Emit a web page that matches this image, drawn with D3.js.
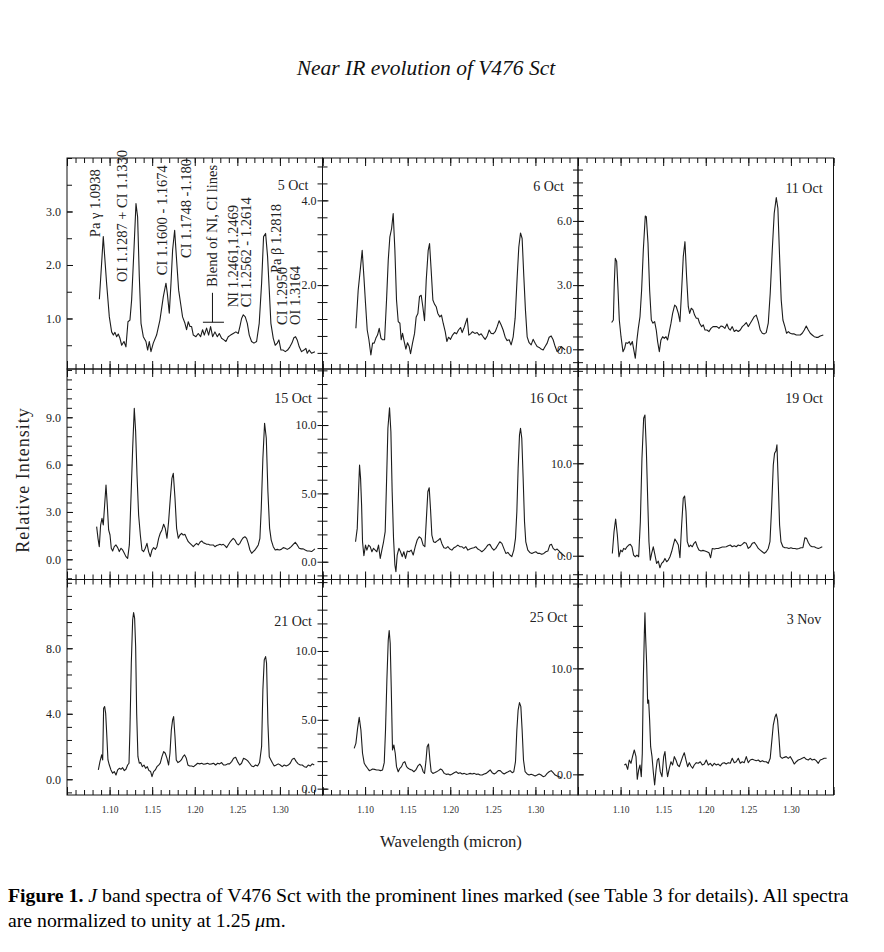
<!DOCTYPE html>
<html><head><meta charset="utf-8">
<script src="https://cdn.jsdelivr.net/npm/d3@7"></script>
<style>body{margin:0;background:#fff}svg{display:block}</style>
</head><body><svg id="c" width="884" height="952"></svg>
<script>
// ---------------- DATA ----------------
const dates = ["5 Oct","6 Oct","11 Oct","15 Oct","16 Oct","19 Oct","21 Oct","25 Oct","3 Nov"];
const xDomain = [1.05, 1.35];
const xTickLabels = ["1.10","1.15","1.20","1.25","1.30"];
// y-range of each panel (relative intensity)
const yDomains = [[0.056,4.0],[0.02,5.0],[-0.92,8.94],[-1.28,12.06],[-1.30,14.1],[-2.57,20.2],[-0.96,12.2],[-0.46,15.19],[-1.95,18.38]];
const yMinorStep = [0.5,0.4,0.6,0.6,1,2,0.8,1,2];
const yMajorStep = [1,2,3,3,5,10,4,5,10];

const oct5 = [[1.0880,1.36],[1.0926,2.53],[1.0965,1.66],[1.0997,1.03],[1.1024,0.75],[1.1044,0.69],[1.1063,0.74],[1.1083,0.66],[1.1102,0.71],[1.1122,0.63],[1.1142,0.50],[1.1169,0.57],[1.1192,0.47],[1.1216,0.94],[1.1239,0.97],[1.1259,1.35],[1.1286,2.28],[1.1310,3.15],[1.1329,2.90],[1.1349,1.78],[1.1369,0.91],[1.1396,0.66],[1.1427,0.57],[1.1447,0.41],[1.1466,0.57],[1.1486,0.38],[1.1513,0.54],[1.1552,0.69],[1.1591,0.97],[1.1631,1.41],[1.1662,1.66],[1.1678,1.47],[1.1701,1.10],[1.1721,1.66],[1.1740,2.28],[1.1764,2.65],[1.1787,2.09],[1.1811,1.53],[1.1834,1.28],[1.1857,1.03],[1.1885,0.91],[1.1904,0.79],[1.1924,0.94],[1.1944,0.85],[1.1963,0.85],[1.1983,0.69],[1.2014,0.66],[1.2041,0.72],[1.2069,0.66],[1.2092,0.79],[1.2112,0.69],[1.2139,0.82],[1.2163,0.69],[1.2186,0.85],[1.2210,0.66],[1.2237,0.75],[1.2265,0.66],[1.2288,0.72],[1.2315,0.63],[1.2343,0.60],[1.2366,0.57],[1.2393,0.66],[1.2421,0.69],[1.2452,0.72],[1.2483,0.75],[1.2511,0.72],[1.2530,0.85],[1.2550,1.00],[1.2570,1.07],[1.2593,1.03],[1.2617,0.91],[1.2640,0.69],[1.2667,0.57],[1.2695,0.54],[1.2726,0.57],[1.2757,0.91],[1.2785,1.66],[1.2808,2.53],[1.2832,2.59],[1.2855,2.16],[1.2875,1.53],[1.2894,0.91],[1.2922,0.63],[1.2945,0.50],[1.2969,0.54],[1.2988,0.60],[1.3012,0.41],[1.3039,0.41],[1.3063,0.38],[1.3090,0.41],[1.3117,0.47],[1.3141,0.54],[1.3164,0.64],[1.3184,0.66],[1.3203,0.60],[1.3227,0.47],[1.3254,0.38],[1.3282,0.41],[1.3305,0.44],[1.3321,0.35],[1.3344,0.41],[1.3371,0.35],[1.3411,0.38]];

const oct6 = [[1.0892,0.98],[1.0919,1.88],[1.0947,2.43],[1.0966,2.82],[1.0986,2.20],[1.1005,1.57],[1.1025,0.94],[1.1045,0.71],[1.1068,0.35],[1.1088,0.63],[1.1107,0.63],[1.1127,0.75],[1.1146,0.82],[1.1166,0.98],[1.1186,0.75],[1.1205,0.71],[1.1229,0.71],[1.1252,1.65],[1.1272,2.59],[1.1291,3.14],[1.1311,3.33],[1.1330,3.69],[1.1350,2.82],[1.1369,1.65],[1.1389,1.14],[1.1409,1.10],[1.1424,0.71],[1.1440,0.86],[1.1459,0.67],[1.1479,0.49],[1.1498,0.64],[1.1518,0.55],[1.1534,0.38],[1.1557,0.63],[1.1581,0.86],[1.1600,1.25],[1.1620,1.33],[1.1639,1.73],[1.1659,1.76],[1.1678,1.49],[1.1698,1.16],[1.1718,2.12],[1.1741,2.82],[1.1757,2.98],[1.1776,2.35],[1.1796,1.65],[1.1815,1.55],[1.1835,1.49],[1.1854,1.33],[1.1878,1.25],[1.1897,1.29],[1.1917,1.10],[1.1941,0.90],[1.1960,0.67],[1.1980,0.77],[1.2003,0.72],[1.2027,0.82],[1.2050,0.88],[1.2074,0.85],[1.2097,0.94],[1.2121,1.00],[1.2140,0.88],[1.2160,0.98],[1.2179,1.10],[1.2199,1.22],[1.2218,0.82],[1.2238,0.85],[1.2261,0.90],[1.2289,0.86],[1.2316,0.88],[1.2340,0.82],[1.2363,0.85],[1.2387,0.78],[1.2410,0.72],[1.2434,0.80],[1.2457,0.94],[1.2481,0.86],[1.2504,0.85],[1.2528,0.90],[1.2551,1.02],[1.2574,1.16],[1.2598,1.06],[1.2621,0.94],[1.2645,0.77],[1.2668,0.69],[1.2692,0.71],[1.2715,0.59],[1.2739,0.78],[1.2762,1.22],[1.2786,2.20],[1.2805,2.90],[1.2825,3.23],[1.2844,3.10],[1.2864,2.20],[1.2883,1.41],[1.2903,0.78],[1.2926,0.64],[1.2950,0.59],[1.2973,0.72],[1.2997,0.63],[1.3020,0.55],[1.3044,0.53],[1.3067,0.49],[1.3091,0.47],[1.3114,0.55],[1.3138,0.63],[1.3161,0.77],[1.3185,0.80],[1.3208,0.71],[1.3232,0.55],[1.3255,0.43],[1.3279,0.47],[1.3302,0.55],[1.3326,0.51],[1.3349,0.47]];

const oct11 = [[1.0895,1.25],[1.0915,1.37],[1.0926,3.08],[1.0938,4.25],[1.0954,4.10],[1.0970,2.77],[1.0985,1.37],[1.1005,0.59],[1.1028,-0.11],[1.1048,0.05],[1.1063,0.31],[1.1083,0.28],[1.1102,0.36],[1.1118,0.20],[1.1138,0.36],[1.1153,0.02],[1.1173,-0.42],[1.1192,0.44],[1.1208,0.98],[1.1228,1.53],[1.1247,2.77],[1.1267,4.64],[1.1290,6.23],[1.1302,6.20],[1.1322,4.95],[1.1341,2.77],[1.1361,1.37],[1.1380,1.22],[1.1400,1.29],[1.1419,0.90],[1.1435,0.36],[1.1455,-0.11],[1.1474,0.44],[1.1494,0.59],[1.1513,0.51],[1.1533,0.59],[1.1552,0.44],[1.1572,0.83],[1.1592,1.22],[1.1611,1.68],[1.1635,2.07],[1.1654,1.99],[1.1678,1.68],[1.1697,1.29],[1.1717,2.77],[1.1736,4.33],[1.1756,5.03],[1.1775,3.40],[1.1795,1.99],[1.1811,1.68],[1.1830,1.92],[1.1850,1.84],[1.1869,1.60],[1.1889,1.45],[1.1909,1.45],[1.1928,1.22],[1.1952,1.06],[1.1971,1.14],[1.1991,0.90],[1.2014,0.90],[1.2038,0.83],[1.2061,0.98],[1.2085,1.06],[1.2108,1.06],[1.2131,1.06],[1.2155,0.98],[1.2178,1.09],[1.2202,1.06],[1.2225,0.98],[1.2249,1.18],[1.2268,0.98],[1.2288,0.90],[1.2311,1.06],[1.2335,0.83],[1.2358,0.90],[1.2382,0.83],[1.2405,0.90],[1.2429,1.06],[1.2452,1.14],[1.2476,1.25],[1.2499,1.06],[1.2523,1.22],[1.2546,1.37],[1.2570,1.53],[1.2593,1.60],[1.2617,1.29],[1.2640,0.90],[1.2664,0.75],[1.2687,0.72],[1.2710,0.78],[1.2734,1.22],[1.2757,2.62],[1.2781,4.64],[1.2804,6.36],[1.2828,7.09],[1.2847,6.59],[1.2867,4.33],[1.2886,2.31],[1.2906,1.37],[1.2929,1.06],[1.2949,0.75],[1.2969,0.83],[1.2992,0.75],[1.3016,0.72],[1.3039,0.72],[1.3063,0.67],[1.3086,0.67],[1.3110,0.67],[1.3133,0.75],[1.3157,0.90],[1.3180,1.09],[1.3204,0.90],[1.3227,0.75],[1.3250,0.67],[1.3274,0.59],[1.3297,0.56],[1.3321,0.56],[1.3344,0.62],[1.3380,0.67]];

const oct15 = [[1.0848,2.07],[1.0864,1.33],[1.0879,0.80],[1.0895,2.18],[1.0911,2.60],[1.0926,2.18],[1.0942,3.44],[1.0958,4.71],[1.0973,3.44],[1.0989,1.86],[1.1005,1.54],[1.1020,0.70],[1.1036,0.53],[1.1055,0.80],[1.1075,0.91],[1.1095,0.74],[1.1114,0.49],[1.1134,0.70],[1.1153,0.59],[1.1173,0.38],[1.1192,0.17],[1.1212,0.06],[1.1232,0.91],[1.1251,3.87],[1.1271,7.03],[1.1290,9.57],[1.1306,8.09],[1.1322,5.35],[1.1341,2.81],[1.1361,1.54],[1.1380,0.59],[1.1400,0.49],[1.1419,0.70],[1.1439,1.01],[1.1458,0.49],[1.1478,0.17],[1.1498,0.59],[1.1517,0.74],[1.1537,0.63],[1.1556,0.80],[1.1576,1.33],[1.1595,1.65],[1.1615,1.86],[1.1635,2.22],[1.1654,1.96],[1.1674,1.33],[1.1693,2.39],[1.1713,3.87],[1.1732,5.13],[1.1748,5.45],[1.1768,3.87],[1.1787,1.96],[1.1807,1.33],[1.1826,1.54],[1.1846,1.65],[1.1865,1.54],[1.1885,1.58],[1.1904,1.33],[1.1924,1.12],[1.1944,1.01],[1.1963,0.91],[1.1983,0.80],[1.2002,0.91],[1.2022,1.01],[1.2041,0.91],[1.2061,1.08],[1.2081,1.16],[1.2100,1.05],[1.2120,1.01],[1.2139,0.95],[1.2159,0.95],[1.2178,0.91],[1.2198,0.91],[1.2217,0.91],[1.2237,0.80],[1.2257,0.87],[1.2276,0.91],[1.2296,0.95],[1.2315,0.91],[1.2335,0.95],[1.2354,0.87],[1.2374,0.74],[1.2393,0.91],[1.2413,1.08],[1.2433,1.22],[1.2452,1.33],[1.2472,1.22],[1.2491,1.01],[1.2511,0.91],[1.2530,1.01],[1.2550,1.22],[1.2570,1.37],[1.2589,1.43],[1.2609,1.33],[1.2628,1.01],[1.2648,0.59],[1.2668,0.38],[1.2687,0.49],[1.2707,0.59],[1.2726,0.74],[1.2746,0.91],[1.2765,1.33],[1.2781,3.23],[1.2800,6.40],[1.2820,8.62],[1.2840,7.67],[1.2859,4.29],[1.2879,1.96],[1.2898,1.22],[1.2922,0.80],[1.2945,0.59],[1.2969,0.63],[1.2992,0.59],[1.3016,0.63],[1.3039,0.74],[1.3063,0.70],[1.3086,0.63],[1.3110,0.70],[1.3133,0.80],[1.3157,0.95],[1.3180,1.08],[1.3203,0.91],[1.3227,0.70],[1.3250,0.66],[1.3274,0.66],[1.3297,0.59],[1.3321,0.53],[1.3344,0.53],[1.3372,0.49],[1.3411,0.66]];

const oct16 = [[1.0888,1.46],[1.0908,2.44],[1.0923,5.12],[1.0935,7.07],[1.0947,6.10],[1.0959,4.15],[1.0970,1.46],[1.0986,0.44],[1.1005,1.22],[1.1021,0.85],[1.1041,1.22],[1.1060,1.10],[1.1080,0.73],[1.1099,0.98],[1.1119,0.85],[1.1138,0.73],[1.1158,1.22],[1.1178,0.24],[1.1197,0.85],[1.1217,1.46],[1.1236,2.20],[1.1252,5.85],[1.1268,9.76],[1.1287,11.27],[1.1303,9.51],[1.1318,5.12],[1.1334,1.71],[1.1350,-0.24],[1.1362,-0.73],[1.1377,0.49],[1.1397,0.98],[1.1416,0.73],[1.1436,0.37],[1.1455,0.73],[1.1475,0.24],[1.1495,0.78],[1.1518,0.73],[1.1542,0.85],[1.1565,0.49],[1.1589,1.10],[1.1612,1.59],[1.1635,1.83],[1.1659,1.71],[1.1682,1.22],[1.1702,1.10],[1.1722,3.41],[1.1737,5.12],[1.1753,5.41],[1.1768,3.90],[1.1784,1.95],[1.1804,1.46],[1.1823,1.41],[1.1843,1.51],[1.1862,1.59],[1.1882,1.71],[1.1901,1.34],[1.1925,1.02],[1.1948,0.98],[1.1972,1.10],[1.1995,0.93],[1.2019,0.85],[1.2042,1.02],[1.2066,1.10],[1.2089,1.22],[1.2113,1.10],[1.2136,1.10],[1.2160,0.98],[1.2183,1.10],[1.2207,0.85],[1.2230,0.93],[1.2253,0.98],[1.2277,1.02],[1.2300,1.10],[1.2324,0.93],[1.2347,0.85],[1.2371,0.73],[1.2394,0.85],[1.2418,1.02],[1.2441,1.22],[1.2465,1.27],[1.2488,1.02],[1.2512,0.85],[1.2535,0.98],[1.2559,1.22],[1.2582,1.46],[1.2606,1.34],[1.2629,0.98],[1.2653,0.61],[1.2676,0.68],[1.2700,0.49],[1.2723,0.37],[1.2746,0.85],[1.2766,1.71],[1.2782,3.66],[1.2797,6.83],[1.2813,9.27],[1.2825,9.76],[1.2840,9.02],[1.2856,6.10],[1.2872,2.93],[1.2887,1.46],[1.2911,0.85],[1.2934,0.68],[1.2958,0.61],[1.2981,0.68],[1.3005,0.73],[1.3028,0.61],[1.3052,0.61],[1.3075,0.54],[1.3099,0.61],[1.3122,0.73],[1.3146,0.78],[1.3169,1.22],[1.3189,1.27],[1.3208,0.98],[1.3232,0.85],[1.3255,0.93],[1.3279,0.78],[1.3302,0.61],[1.3326,0.49],[1.3349,0.37]];

const oct19 = [[1.0903,0.25],[1.0923,2.60],[1.0942,3.97],[1.0962,2.24],[1.0981,-0.11],[1.1001,0.61],[1.1020,0.43],[1.1036,0.79],[1.1056,0.69],[1.1075,0.97],[1.1095,1.16],[1.1114,1.23],[1.1134,0.97],[1.1153,0.07],[1.1173,-0.11],[1.1192,0.07],[1.1212,-0.11],[1.1232,3.68],[1.1251,10.54],[1.1271,14.87],[1.1286,15.23],[1.1302,11.62],[1.1318,6.21],[1.1333,1.52],[1.1349,-0.47],[1.1365,0.25],[1.1384,0.97],[1.1404,0.07],[1.1423,-0.83],[1.1443,-0.58],[1.1462,-1.30],[1.1482,-0.83],[1.1502,-0.65],[1.1521,-0.29],[1.1541,-0.65],[1.1560,-0.47],[1.1580,-0.11],[1.1599,0.43],[1.1619,1.16],[1.1638,1.81],[1.1658,1.52],[1.1678,1.16],[1.1697,-0.22],[1.1717,3.32],[1.1736,6.21],[1.1752,6.46],[1.1768,4.77],[1.1783,1.52],[1.1803,0.97],[1.1822,1.16],[1.1842,0.97],[1.1862,1.34],[1.1881,1.52],[1.1901,0.97],[1.1920,0.61],[1.1944,0.51],[1.1967,0.58],[1.1991,0.51],[1.2014,0.43],[1.2038,0.32],[1.2057,-0.22],[1.2077,0.79],[1.2100,0.72],[1.2124,0.79],[1.2147,0.79],[1.2170,0.87],[1.2194,0.94],[1.2217,0.94],[1.2241,0.97],[1.2264,1.08],[1.2288,1.16],[1.2311,0.97],[1.2335,1.08],[1.2358,0.97],[1.2382,1.16],[1.2405,1.08],[1.2429,1.23],[1.2452,1.44],[1.2476,1.34],[1.2499,0.79],[1.2523,0.97],[1.2546,1.34],[1.2570,1.44],[1.2593,1.16],[1.2617,0.79],[1.2640,0.61],[1.2664,0.43],[1.2687,0.25],[1.2710,0.43],[1.2734,0.79],[1.2754,1.52],[1.2773,5.13],[1.2793,9.82],[1.2808,11.08],[1.2824,11.34],[1.2836,11.99],[1.2851,8.01],[1.2867,3.32],[1.2883,1.52],[1.2906,0.97],[1.2929,0.87],[1.2953,0.87],[1.2976,0.79],[1.3000,0.87],[1.3023,0.79],[1.3047,0.79],[1.3070,0.72],[1.3094,0.79],[1.3117,0.87],[1.3141,0.87],[1.3164,1.95],[1.3184,1.88],[1.3204,1.44],[1.3227,1.08],[1.3250,0.97],[1.3274,0.97],[1.3297,0.87],[1.3321,0.79],[1.3344,0.87],[1.3368,0.97]];

const oct21 = [[1.0868,0.57],[1.0887,1.08],[1.0907,1.49],[1.0919,1.18],[1.0930,4.34],[1.0942,4.44],[1.0954,4.03],[1.0966,2.81],[1.0981,1.18],[1.0997,0.87],[1.1016,0.57],[1.1036,0.37],[1.1055,0.47],[1.1075,0.26],[1.1095,0.57],[1.1114,0.67],[1.1134,0.61],[1.1153,0.71],[1.1173,0.53],[1.1192,0.61],[1.1212,0.87],[1.1228,0.98],[1.1239,3.01],[1.1255,7.09],[1.1271,9.74],[1.1282,10.18],[1.1294,9.84],[1.1306,8.11],[1.1318,4.03],[1.1333,1.38],[1.1349,0.98],[1.1365,1.02],[1.1384,0.77],[1.1404,0.87],[1.1423,0.67],[1.1443,0.77],[1.1462,0.53],[1.1482,0.47],[1.1498,0.16],[1.1517,0.47],[1.1537,0.57],[1.1556,0.77],[1.1576,0.87],[1.1595,0.98],[1.1615,1.38],[1.1635,1.69],[1.1654,1.59],[1.1674,1.28],[1.1693,0.87],[1.1709,1.59],[1.1725,3.01],[1.1740,3.63],[1.1752,3.83],[1.1768,2.61],[1.1783,1.18],[1.1803,1.02],[1.1822,1.08],[1.1842,1.18],[1.1862,1.38],[1.1881,1.49],[1.1901,1.28],[1.1920,0.87],[1.1940,0.81],[1.1963,0.81],[1.1987,0.77],[1.2010,0.87],[1.2034,0.98],[1.2057,0.94],[1.2081,0.98],[1.2104,0.92],[1.2127,0.94],[1.2151,0.98],[1.2174,0.92],[1.2198,0.94],[1.2221,0.98],[1.2245,0.87],[1.2268,0.98],[1.2292,0.94],[1.2315,1.02],[1.2339,0.87],[1.2362,0.87],[1.2386,0.94],[1.2409,0.94],[1.2433,1.08],[1.2456,1.28],[1.2480,1.34],[1.2503,1.08],[1.2527,0.87],[1.2550,0.98],[1.2573,1.28],[1.2597,1.22],[1.2620,1.14],[1.2644,0.98],[1.2667,0.81],[1.2691,0.77],[1.2714,0.87],[1.2738,0.81],[1.2761,1.02],[1.2785,2.00],[1.2800,5.46],[1.2816,7.29],[1.2832,7.49],[1.2843,7.09],[1.2859,3.42],[1.2875,1.38],[1.2894,1.18],[1.2914,0.98],[1.2933,0.81],[1.2957,0.87],[1.2980,0.94],[1.3004,0.87],[1.3027,0.77],[1.3051,0.87],[1.3074,0.81],[1.3098,0.87],[1.3121,0.98],[1.3145,1.22],[1.3168,1.28],[1.3192,1.08],[1.3215,0.94],[1.3239,0.87],[1.3262,0.87],[1.3286,0.77],[1.3309,0.73],[1.3333,0.87],[1.3356,0.81],[1.3380,0.94],[1.3403,0.87]];

const oct25 = [[1.0872,2.93],[1.0892,3.29],[1.0912,4.38],[1.0931,5.18],[1.0951,4.26],[1.0970,2.57],[1.0990,1.84],[1.1009,1.65],[1.1029,1.48],[1.1049,1.31],[1.1068,1.36],[1.1088,1.43],[1.1111,1.40],[1.1135,1.36],[1.1158,1.36],[1.1182,1.31],[1.1205,1.36],[1.1225,1.89],[1.1240,4.26],[1.1256,7.89],[1.1272,10.80],[1.1283,11.48],[1.1295,10.56],[1.1307,7.41],[1.1322,2.81],[1.1338,3.17],[1.1354,2.57],[1.1369,1.60],[1.1389,1.23],[1.1409,1.48],[1.1428,1.60],[1.1448,1.89],[1.1467,1.96],[1.1487,1.60],[1.1506,1.48],[1.1526,1.40],[1.1549,1.36],[1.1573,1.23],[1.1596,1.36],[1.1620,1.65],[1.1643,1.79],[1.1663,1.60],[1.1682,1.23],[1.1698,1.11],[1.1714,1.96],[1.1729,3.05],[1.1745,3.24],[1.1761,2.08],[1.1776,1.23],[1.1796,1.11],[1.1815,1.16],[1.1839,1.23],[1.1862,1.31],[1.1886,1.43],[1.1905,1.36],[1.1929,1.11],[1.1952,1.04],[1.1976,1.07],[1.1999,0.99],[1.2023,1.07],[1.2046,1.16],[1.2070,1.23],[1.2093,1.11],[1.2117,1.16],[1.2140,1.07],[1.2164,1.11],[1.2187,1.04],[1.2211,1.07],[1.2234,1.11],[1.2257,1.07],[1.2281,1.11],[1.2304,1.04],[1.2328,1.07],[1.2351,0.99],[1.2375,0.99],[1.2398,1.07],[1.2422,1.11],[1.2445,1.23],[1.2469,1.36],[1.2492,1.16],[1.2516,1.07],[1.2539,1.16],[1.2563,1.31],[1.2586,1.31],[1.2610,1.16],[1.2633,1.07],[1.2656,1.16],[1.2680,1.23],[1.2703,1.31],[1.2727,1.16],[1.2746,1.23],[1.2766,1.96],[1.2782,4.26],[1.2797,5.71],[1.2813,6.25],[1.2829,5.96],[1.2844,4.26],[1.2860,2.08],[1.2879,1.23],[1.2903,1.07],[1.2926,0.99],[1.2950,1.04],[1.2973,0.99],[1.2997,0.92],[1.3020,0.99],[1.3044,1.07],[1.3067,0.99],[1.3091,0.87],[1.3114,0.92],[1.3138,1.11],[1.3161,1.23],[1.3185,1.31],[1.3208,1.16],[1.3232,0.99],[1.3255,0.92],[1.3279,0.87],[1.3302,0.80]];

const nov3 = [[1.1044,0.88],[1.1063,0.97],[1.1083,0.47],[1.1102,1.35],[1.1122,1.04],[1.1142,1.73],[1.1161,2.30],[1.1181,1.67],[1.1196,-0.47],[1.1212,0.41],[1.1228,0.88],[1.1243,-0.22],[1.1255,1.98],[1.1267,8.90],[1.1279,13.30],[1.1286,15.25],[1.1294,12.99],[1.1306,10.47],[1.1318,6.70],[1.1329,7.01],[1.1341,5.13],[1.1353,2.61],[1.1369,1.67],[1.1384,0.25],[1.1400,-1.01],[1.1416,0.41],[1.1431,1.35],[1.1447,1.51],[1.1466,0.25],[1.1486,-0.22],[1.1506,1.67],[1.1521,2.14],[1.1537,0.72],[1.1552,-0.22],[1.1572,0.57],[1.1592,1.19],[1.1611,0.88],[1.1631,1.67],[1.1650,1.35],[1.1670,0.88],[1.1689,0.72],[1.1709,1.19],[1.1729,1.67],[1.1748,2.04],[1.1768,1.35],[1.1787,0.72],[1.1807,1.10],[1.1826,0.79],[1.1846,0.57],[1.1865,0.88],[1.1889,1.10],[1.1912,1.04],[1.1936,1.19],[1.1959,0.88],[1.1983,0.97],[1.2006,1.35],[1.2030,0.88],[1.2053,1.04],[1.2077,0.79],[1.2100,1.04],[1.2124,0.88],[1.2147,0.97],[1.2170,0.79],[1.2194,1.04],[1.2217,1.10],[1.2241,0.97],[1.2264,1.10],[1.2288,1.04],[1.2311,1.51],[1.2335,1.10],[1.2358,1.19],[1.2382,1.51],[1.2405,1.04],[1.2429,1.19],[1.2452,1.10],[1.2476,1.67],[1.2499,1.10],[1.2523,1.35],[1.2546,1.42],[1.2570,1.35],[1.2593,1.29],[1.2617,1.35],[1.2640,1.19],[1.2664,1.29],[1.2687,1.19],[1.2710,1.19],[1.2734,1.04],[1.2757,1.51],[1.2773,2.92],[1.2793,4.65],[1.2812,5.38],[1.2828,5.69],[1.2843,5.13],[1.2859,3.55],[1.2875,1.67],[1.2898,1.51],[1.2922,1.60],[1.2945,1.67],[1.2969,1.51],[1.2992,1.67],[1.3016,1.35],[1.3039,0.97],[1.3063,1.19],[1.3086,1.35],[1.3110,1.42],[1.3133,1.51],[1.3157,1.60],[1.3180,1.42],[1.3204,1.35],[1.3227,1.51],[1.3250,1.35],[1.3274,1.42],[1.3297,1.29],[1.3321,1.04],[1.3344,1.35],[1.3368,1.42],[1.3391,1.51],[1.3419,1.51]];

const spectra = [oct5, oct6, oct11, oct15, oct16, oct19, oct21, oct25, nov3];

// line identifications in the first panel (wavelength / intensity of label foot)
const lineIds = ["Pa γ 1.0938","OI 1.1287 + CI 1.1330","CI 1.1600 - 1.1674","CI 1.1748 -1.180","Blend of NI, CI lines","NI 1.2461,1.2469","CI 1.2562 - 1.2614","Pa β 1.2818","CI 1.2950","OI 1.3164"];
const lineIdWl = [1.0829,1.1146,1.1615,1.1897,1.2202,1.2448,1.2601,1.2953,1.3029,1.3176];
const lineIdV  = [2.52,1.68,1.81,2.13,1.59,1.21,1.21,1.85,0.88,0.88];
const blendWl = [1.2096, 1.2208, 1.2343];
const blendV = [1.48, 0.93];

// ---------------- LAYOUT ----------------
const svg = d3.select("#c");
const colX = [67, 322.5, 578], panelW = 255.5;
const rowY = [158, 369, 579.5, 795];
const dateDy = [32, 32.5, 35, 33.5, 34, 33.5, 46, 42.5, 44];
const SERIF = "'Liberation Serif','Times New Roman',serif";
const ink = "#111";

function styleAxis(g){
  g.select(".domain").remove();
  g.selectAll("line").attr("stroke", ink).attr("stroke-width", 1);
  g.selectAll("text").attr("font-family", SERIF).attr("fill", "#222");
}

const xMinor = d3.range(105, 136).map(k => k/100);
const xMajor = d3.range(105, 136, 5).map(k => k/100);

spectra.forEach((data, i) => {
  const c = i % 3, r = Math.floor(i / 3);
  const x0 = colX[c], y0 = rowY[r], y1 = rowY[r + 1];
  const x = d3.scaleLinear().domain(xDomain).range([x0, x0 + panelW]);
  const y = d3.scaleLinear().domain(yDomains[i]).range([y1, y0]);
  const g = svg.append("g");

  // y ticks
  const [lo, hi] = yDomains[i];
  const st = yMinorStep[i];
  const ks = d3.range(Math.ceil(lo / st - 1e-6), Math.floor(hi / st + 1e-6) + 1);
  const minorV = ks.map(k => +(k * st).toFixed(4));
  const majorV = minorV.filter(v => Math.abs(v / yMajorStep[i] - Math.round(v / yMajorStep[i])) < 1e-6)
                       .filter(v => y(v) > y0 + 8 && y(v) < y1 - 2);
  g.append("g").attr("transform", `translate(${x0},0)`)
    .call(d3.axisLeft(y).tickValues(minorV).tickSize(-5).tickFormat(""))
    .call(styleAxis);
  if (c > 0) {
    g.append("g").attr("transform", `translate(${x0},0)`)
      .call(d3.axisLeft(y).tickValues(minorV).tickSize(5).tickFormat(""))
      .call(styleAxis);
  }
  g.append("g").attr("transform", `translate(${x0},0)`)
    .call(d3.axisLeft(y).tickValues(majorV).tickSize(-6).tickPadding(6).tickFormat(d3.format(".1f")))
    .call(styleAxis)
    .call(a => a.selectAll("text").attr("font-size", 12));

  // x ticks (top & bottom, inward)
  g.append("g").attr("transform", `translate(0,${y0})`)
    .call(d3.axisTop(x).tickValues(xMinor).tickSize(-5).tickFormat("")).call(styleAxis);
  g.append("g").attr("transform", `translate(0,${y0})`)
    .call(d3.axisTop(x).tickValues(xMajor).tickSize(-8).tickFormat("")).call(styleAxis);
  g.append("g").attr("transform", `translate(0,${y1})`)
    .call(d3.axisBottom(x).tickValues(xMinor).tickSize(-5).tickFormat("")).call(styleAxis);
  const bottomMajor = g.append("g").attr("transform", `translate(0,${y1})`)
    .call(d3.axisBottom(x).tickValues(xMajor).tickSize(-8).tickPadding(11)
      .tickFormat(d => (r === 2 && xTickLabels.includes(d3.format(".2f")(d))) ? d3.format(".2f")(d) : ""))
    .call(styleAxis);
  bottomMajor.selectAll("text").attr("font-size", 9.5).attr("fill", "#333");

  // frame
  g.append("rect").attr("x", x0).attr("y", y0).attr("width", panelW).attr("height", y1 - y0)
    .attr("fill", "none").attr("stroke", ink).attr("stroke-width", 1);

  // spectrum
  g.append("path").datum(data)
    .attr("d", d3.line().x(d => x(d[0])).y(d => y(d[1])))
    .attr("fill", "none").attr("stroke", "#1c1c1c").attr("stroke-width", 1.1)
    .attr("stroke-linejoin", "round");

  // date label
  g.append("text").attr("x", x0 + 226).attr("y", y0 + dateDy[i])
    .attr("text-anchor", "middle").attr("font-family", SERIF).attr("font-size", 14)
    .attr("fill", "#222").text(dates[i]);

  // line identifications on first panel
  if (i === 0) {
    lineIds.forEach((t, k) => {
      g.append("text")
        .attr("transform", `translate(${x(lineIdWl[k])},${y(lineIdV[k])}) rotate(-90)`)
        .attr("dominant-baseline", "central")
        .attr("font-family", SERIF).attr("font-size", 14.5).attr("fill", "#222").text(t);
    });
    g.append("line").attr("x1", x(blendWl[1])).attr("x2", x(blendWl[1]))
      .attr("y1", y(blendV[0])).attr("y2", y(blendV[1])).attr("stroke", ink);
    g.append("line").attr("x1", x(blendWl[0])).attr("x2", x(blendWl[2]))
      .attr("y1", y(blendV[1])).attr("y2", y(blendV[1])).attr("stroke", ink);
  }
});

// titles
svg.append("text").attr("x", 426).attr("y", 75).attr("text-anchor", "middle")
  .attr("font-family", SERIF).attr("font-style", "italic").attr("font-size", 21.5)
  .attr("fill", "#111").text("Near IR evolution of V476 Sct");
svg.append("text").attr("transform", "translate(23,480) rotate(-90)")
  .attr("text-anchor", "middle").attr("dominant-baseline", "central")
  .attr("font-family", SERIF).attr("font-size", 18).attr("letter-spacing", 1)
  .attr("fill", "#222").text("Relative Intensity");
svg.append("text").attr("x", 451).attr("y", 847).attr("text-anchor", "middle")
  .attr("font-family", SERIF).attr("font-size", 16.7).attr("fill", "#222")
  .text("Wavelength (micron)");

// caption
const cap1 = svg.append("text").attr("x", 8).attr("y", 902)
  .attr("font-family", SERIF).attr("font-size", 19.75).attr("fill", "#000");
cap1.append("tspan").attr("font-weight", "bold").text("Figure 1.");
cap1.append("tspan").text(" ");
cap1.append("tspan").attr("font-style", "italic").text("J");
cap1.append("tspan").text(" band spectra of V476 Sct with the prominent lines marked (see Table 3 for details). All spectra");
const cap2 = svg.append("text").attr("x", 8).attr("y", 927)
  .attr("font-family", SERIF).attr("font-size", 19.75).attr("fill", "#000");
cap2.append("tspan").text("are normalized to unity at 1.25 ");
cap2.append("tspan").attr("font-style", "italic").text("μ");
cap2.append("tspan").text("m.");
</script>
</body></html>
